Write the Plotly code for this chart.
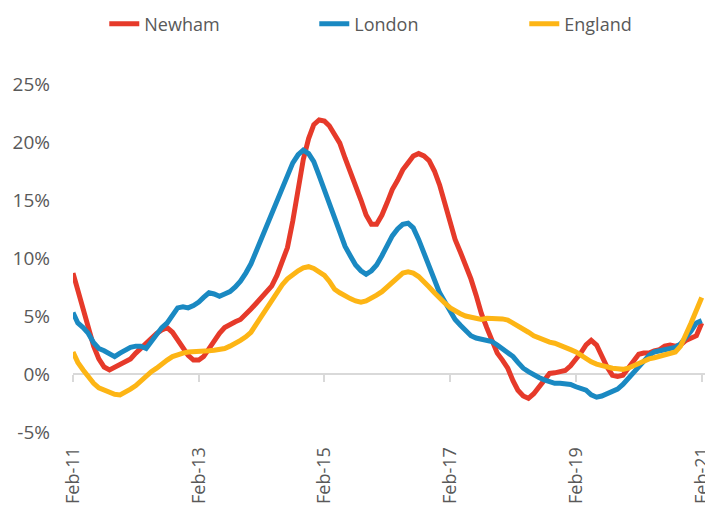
import pandas as pd
import plotly.graph_objects as go

months = pd.date_range("2011-02-01", periods=121, freq="MS")

newham = [8.7, 7.3, 5.8, 4.0, 2.4, 1.3, 0.6, 0.35, 0.6, 0.9, 1.1, 1.3,
          1.8, 2.2, 2.7, 3.1, 3.5, 3.8, 4.0, 3.6, 2.9, 2.2, 1.6, 1.2,
          1.2, 1.5, 2.2, 2.9, 3.5, 4.0, 4.3, 4.5, 4.7, 5.1, 5.6, 6.1,
          6.6, 7.1, 7.6, 8.5, 9.6, 10.9, 13.2, 16.0, 18.5, 20.3, 21.5, 21.9,
          21.8, 21.4, 20.6, 19.9, 18.6, 17.5, 16.3, 15.0, 13.7, 12.9, 12.9, 13.7,
          14.8, 15.9, 16.7, 17.6, 18.2, 18.8, 19.0, 18.8, 18.4, 17.5, 16.3, 14.8,
          13.2, 11.6, 10.5, 9.5, 8.2, 6.8, 5.2, 4.0, 2.8, 1.8, 1.2, 0.5,
          -0.6, -1.4, -1.9, -2.1, -1.7, -1.1, -0.4, 0.05, 0.1, 0.15, 0.3, 0.7,
          1.2, 1.8, 2.5, 2.9, 2.5, 1.5, 0.6, -0.1, -0.2, -0.1, 0.5, 1.1,
          1.7, 1.8, 1.8, 2.0, 2.1, 2.4, 2.5, 2.4, 2.5, 2.9, 3.1, 3.3,
          4.4]

london = [5.3, 4.4, 4.0, 3.5, 2.7, 2.2, 2.0, 1.8, 1.5, 1.8, 2.1, 2.3,
          2.4, 2.4, 2.2, 2.8, 3.5, 4.0, 4.4, 5.0, 5.7, 5.8, 5.7, 5.9,
          6.2, 6.6, 7.0, 6.9, 6.7, 6.9, 7.1, 7.5, 8.0, 8.7, 9.5, 10.6,
          11.7, 12.7, 13.8, 15.0, 15.9, 17.2, 18.2, 18.9, 19.3, 19.0, 18.3, 17.1,
          15.8, 14.6, 13.4, 12.2, 11.0, 10.2, 9.4, 8.9, 8.6, 8.9, 9.4, 10.2,
          11.2, 11.9, 12.5, 12.9, 13.0, 12.6, 11.6, 10.5, 9.4, 8.3, 7.0, 6.2,
          5.3, 4.7, 4.2, 3.7, 3.3, 3.1, 3.0, 2.9, 2.8, 2.5, 2.2, 1.9,
          1.5, 1.0, 0.5, 0.2, -0.1, -0.3, -0.5, -0.7, -0.8, -0.8, -0.8, -0.9,
          -1.1, -1.2, -1.4, -1.8, -2.0, -1.9, -1.7, -1.5, -1.3, -0.9, -0.4, 0.0,
          0.5, 1.1, 1.6, 1.9, 2.0, 2.1, 2.2, 2.3, 2.6, 3.1, 3.7, 4.4,
          4.6]

england = [1.9, 1.0, 0.35, -0.3, -0.8, -1.2, -1.4, -1.6, -1.75, -1.8, -1.6, -1.3,
           -1.0, -0.6, -0.2, 0.2, 0.5, 0.9, 1.2, 1.5, 1.7, 1.8, 1.9, 1.9,
           1.9, 1.95, 2.0, 2.05, 2.1, 2.2, 2.4, 2.6, 2.9, 3.2, 3.6, 4.3,
           5.0, 5.6, 6.3, 7.1, 7.7, 8.2, 8.6, 8.9, 9.15, 9.25, 9.1, 8.8,
           8.5, 8.0, 7.3, 7.0, 6.7, 6.5, 6.3, 6.2, 6.3, 6.5, 6.8, 7.1,
           7.5, 7.9, 8.4, 8.7, 8.8, 8.7, 8.4, 8.0, 7.5, 7.0, 6.5, 6.1,
           5.7, 5.4, 5.2, 5.0, 4.9, 4.8, 4.7, 4.8, 4.8, 4.8, 4.75, 4.65,
           4.4, 4.2, 3.9, 3.6, 3.3, 3.1, 2.9, 2.75, 2.65, 2.5, 2.3, 2.1,
           1.9, 1.6, 1.3, 1.05, 0.85, 0.7, 0.6, 0.5, 0.45, 0.4, 0.5, 0.7,
           0.9, 1.15, 1.3, 1.4, 1.5, 1.6, 1.8, 1.9, 2.4, 3.3, 4.4, 5.5,
           6.6]

series_names = ["Newham", "London", "England"]
series_values = [newham, london, england]
series_colors = ["#E63A2A", "#1A89C2", "#FDB515"]

tick_dates = ["2011-02-01", "2013-02-01", "2015-02-01", "2017-02-01", "2019-02-01", "2021-02-01"]
tick_labels = ["Feb-11", "Feb-13", "Feb-15", "Feb-17", "Feb-19", "Feb-21"]
y_ticks = [-5, 0, 5, 10, 15, 20, 25]
y_labels = ["-5%", "0%", "5%", "10%", "15%", "20%", "25%"]

FONT = "Open Sans"
GREY = "#595959"

fig = go.Figure()
for name, vals, col in zip(series_names, series_values, series_colors):
    fig.add_trace(go.Scatter(
        x=months, y=vals, name=name, mode="lines",
        line=dict(color=col, width=5),
    ))

# the page body adds an 8px offset, so the figure is sized to 705x505
fig.update_layout(
    width=705, height=505,
    margin=dict(l=65, r=8, t=76, b=81, autoexpand=False),
    paper_bgcolor="white", plot_bgcolor="white",
    font=dict(family=FONT, size=18, color=GREY),
    showlegend=True,
    legend=dict(
        orientation="h", x=0.0495, xanchor="left", y=1.172, yanchor="middle",
        font=dict(family=FONT, size=18, color=GREY),
        entrywidth=165, itemwidth=30,
        bgcolor="rgba(0,0,0,0)",
    ),
    xaxis=dict(
        type="date",
        range=["2011-02-01", "2021-02-20"],
        tickvals=tick_dates, ticktext=tick_labels,
        tickangle=-90,
        showgrid=False, zeroline=False,
        showline=True, linecolor="#D9D9D9", linewidth=2,
        ticks="outside", ticklen=7, tickwidth=2, tickcolor="#D9D9D9",
        anchor="free", position=5 / 30,
        ticklabelstandoff=58,
        ticklabeloverflow="allow",
        layer="below traces",
        tickfont=dict(family=FONT, size=18, color=GREY),
    ),
    yaxis=dict(
        range=[-5, 25],
        tickvals=y_ticks, ticktext=y_labels,
        showgrid=False, zeroline=False, showline=False,
        ticklabelstandoff=22,
        tickfont=dict(family=FONT, size=19, color=GREY),
    ),
)

fig.write_html("out.html")
